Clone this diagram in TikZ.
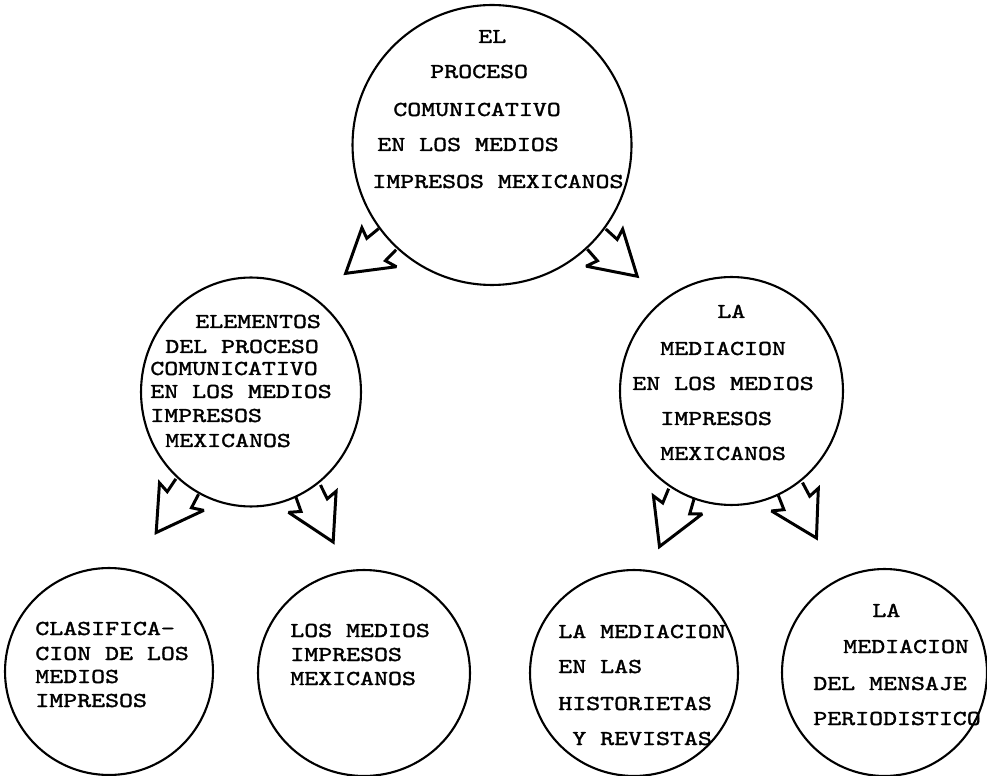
\documentclass[tikz,border=0pt]{standalone}
\usepackage{fontspec}
\newfontfamily\twfont{lmmono10-regular}[Extension=.otf,FakeStretch=1.25,FakeBold=1.6]
\usetikzlibrary{shapes.geometric}
\tikzset{
  bubble/.style={draw, ellipse, line width=1.2pt, inner sep=0pt, fill=white},
  txt/.style={anchor=base west, inner sep=0pt, font=\twfont\fontsize{12.1}{14}\selectfont},
  barrow/.style={draw, line width=1.7pt, line join=miter, miter limit=3},
}
\newcommand\blockarrow[4]{%
  \begin{scope}[shift={(#1)}, rotate=#2, yscale=#3]
    \draw[barrow] (0,13.7) -- (15.4,13.7) -- (12.5,25) -- (#4,0) -- (10.5,-27) -- (15.2,-15.4) -- (0,-13.7);
  \end{scope}}
\begin{document}
\begin{tikzpicture}[x=0.02cm,y=-0.02cm]
\useasboundingbox (0,0) rectangle (987,776);
% circles
\node[bubble, minimum width=5.58cm, minimum height=5.6cm] (top) at (492,145) {};
\node[bubble, minimum width=4.4cm, minimum height=4.58cm] (midL) at (251,392) {};
\node[bubble, minimum width=4.46cm, minimum height=4.56cm] (midR) at (731.5,391) {};
\node[bubble, minimum width=4.16cm, minimum height=4.14cm] (b1) at (109,671.5) {};
\node[bubble, minimum width=4.24cm, minimum height=4.12cm] (b2) at (364,673) {};
\node[bubble, minimum width=4.16cm, minimum height=4.12cm] (b3) at (634,673) {};
\node[bubble, minimum width=4.1cm, minimum height=4.14cm] (b4) at (884.5,672.5) {};
% arrows
\blockarrow{top.222}{219.3}{1}{54}
\blockarrow{top.318}{-42.4}{-1}{55}
\blockarrow{midL.236}{236}{1}{55.5}
\blockarrow{midL.300}{-63.9}{-1}{56.8}
\blockarrow{midR.244}{247.5}{1}{57}
\blockarrow{midR.301}{-62}{-1}{55.5}
% texts
\node[txt] (t1) at (478,43) {EL};
\node[txt] (t2) at (430,78) {PROCESO};
\node[txt] (t3) at (393,116) {COMUNICATIVO};
\node[txt] (t4) at (377,151) {EN LOS MEDIOS};
\node[txt] (t5) at (372,188) {IMPRESOS MEXICANOS};
\node[txt] (l1) at (195,328) {ELEMENTOS};
\node[txt] (l2) at (165,353) {DEL PROCESO};
\node[txt] (l3) at (150,375) {COMUNICATIVO};
\node[txt] (l4) at (150,398) {EN LOS MEDIOS};
\node[txt] (l5) at (150,422) {IMPRESOS};
\node[txt] (l6) at (165,447) {MEXICANOS};
\node[txt] (r1) at (717,318) {LA};
\node[txt] (r2) at (660,355) {MEDIACION};
\node[txt] (r3) at (632,390) {EN LOS MEDIOS};
\node[txt] (r4) at (660,425) {IMPRESOS};
\node[txt] (r5) at (660,460) {MEXICANOS};
\node[txt] (c1) at (35,635) {CLASIFICA-};
\node[txt] (c2) at (35,660) {CION DE LOS};
\node[txt] (c3) at (35,683) {MEDIOS};
\node[txt] (c4) at (35,707) {IMPRESOS};
\node[txt] (d1) at (290,637) {LOS MEDIOS};
\node[txt] (d2) at (290,661) {IMPRESOS};
\node[txt] (d3) at (290,685) {MEXICANOS};
\node[txt] (e1) at (558,638) {LA MEDIACION};
\node[txt] (e2) at (558,673) {EN LAS};
\node[txt] (e3) at (558,710) {HISTORIETAS};
\node[txt] (e4) at (572,745) {Y REVISTAS};
\node[txt] (f1) at (872,617) {LA};
\node[txt] (f2) at (843,653) {MEDIACION};
\node[txt] (f3) at (813,690) {DEL MENSAJE};
\node[txt] (f4) at (813,725) {PERIODISTICO};
\end{tikzpicture}
\end{document}
